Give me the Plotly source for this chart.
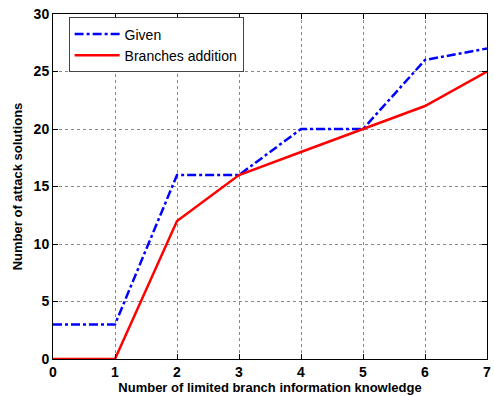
import plotly.graph_objects as go

x = [0, 1, 2, 3, 4, 5, 6, 7]
given = [3, 3, 16, 16, 20, 20, 26, 27]
branches = [0, 0, 12, 16, 18, 20, 22, 25]
xticks = [0, 1, 2, 3, 4, 5, 6, 7]
yticks = [0, 5, 10, 15, 20, 25, 30]

fig = go.Figure()
fig.add_trace(go.Scatter(x=x, y=given, mode="lines", name="Given",
                         line=dict(color="#0000ff", width=2.5, dash="dashdot")))
fig.add_trace(go.Scatter(x=x, y=branches, mode="lines", name="Branches addition",
                         line=dict(color="#ff0000", width=2.5)))

axfont = dict(family="Liberation Sans, Arial", size=14, color="black")
fig.update_layout(
    width=494, height=396,
    margin=dict(l=53, r=3, t=14, b=37),
    paper_bgcolor="white", plot_bgcolor="white",
    font=dict(family="Liberation Sans, Arial", color="black"),
    showlegend=True,
    legend=dict(x=0.036, y=0.99, xanchor="left", yanchor="top",
                bgcolor="white", bordercolor="#444", borderwidth=1,
                font=dict(size=14, family="Liberation Sans, Arial", color="black"),
                tracegroupgap=0, itemwidth=45),
    xaxis=dict(range=[0, 7], tickvals=xticks, ticktext=[f"<b>{v}</b>" for v in xticks],
               showgrid=True, gridcolor="#888", griddash="dot", gridwidth=1,
               showline=True, linecolor="black", linewidth=1, mirror="ticks",
               ticks="inside", ticklen=5, tickcolor="black",
               tickfont=axfont, zeroline=False, ticklabeloverflow="allow",
               title=dict(text="<b>Number of limited branch information knowledge</b>",
                          font=dict(size=13, family="Liberation Sans, Arial"), standoff=2)),
    yaxis=dict(range=[0, 30], tickvals=yticks, ticktext=[f"<b>{v}</b>" for v in yticks],
               showgrid=True, gridcolor="#888", griddash="dot", gridwidth=1,
               showline=True, linecolor="black", linewidth=1, mirror="ticks",
               ticks="inside", ticklen=5, tickcolor="black",
               tickfont=axfont, zeroline=False,
               title=dict(text="<b>Number of attack solutions</b>",
                          font=dict(size=13, family="Liberation Sans, Arial"), standoff=8)),
)
fig.write_html("out.html", config={"displayModeBar": False},
               post_script="document.body.style.margin='0';document.body.style.overflow='hidden';")
